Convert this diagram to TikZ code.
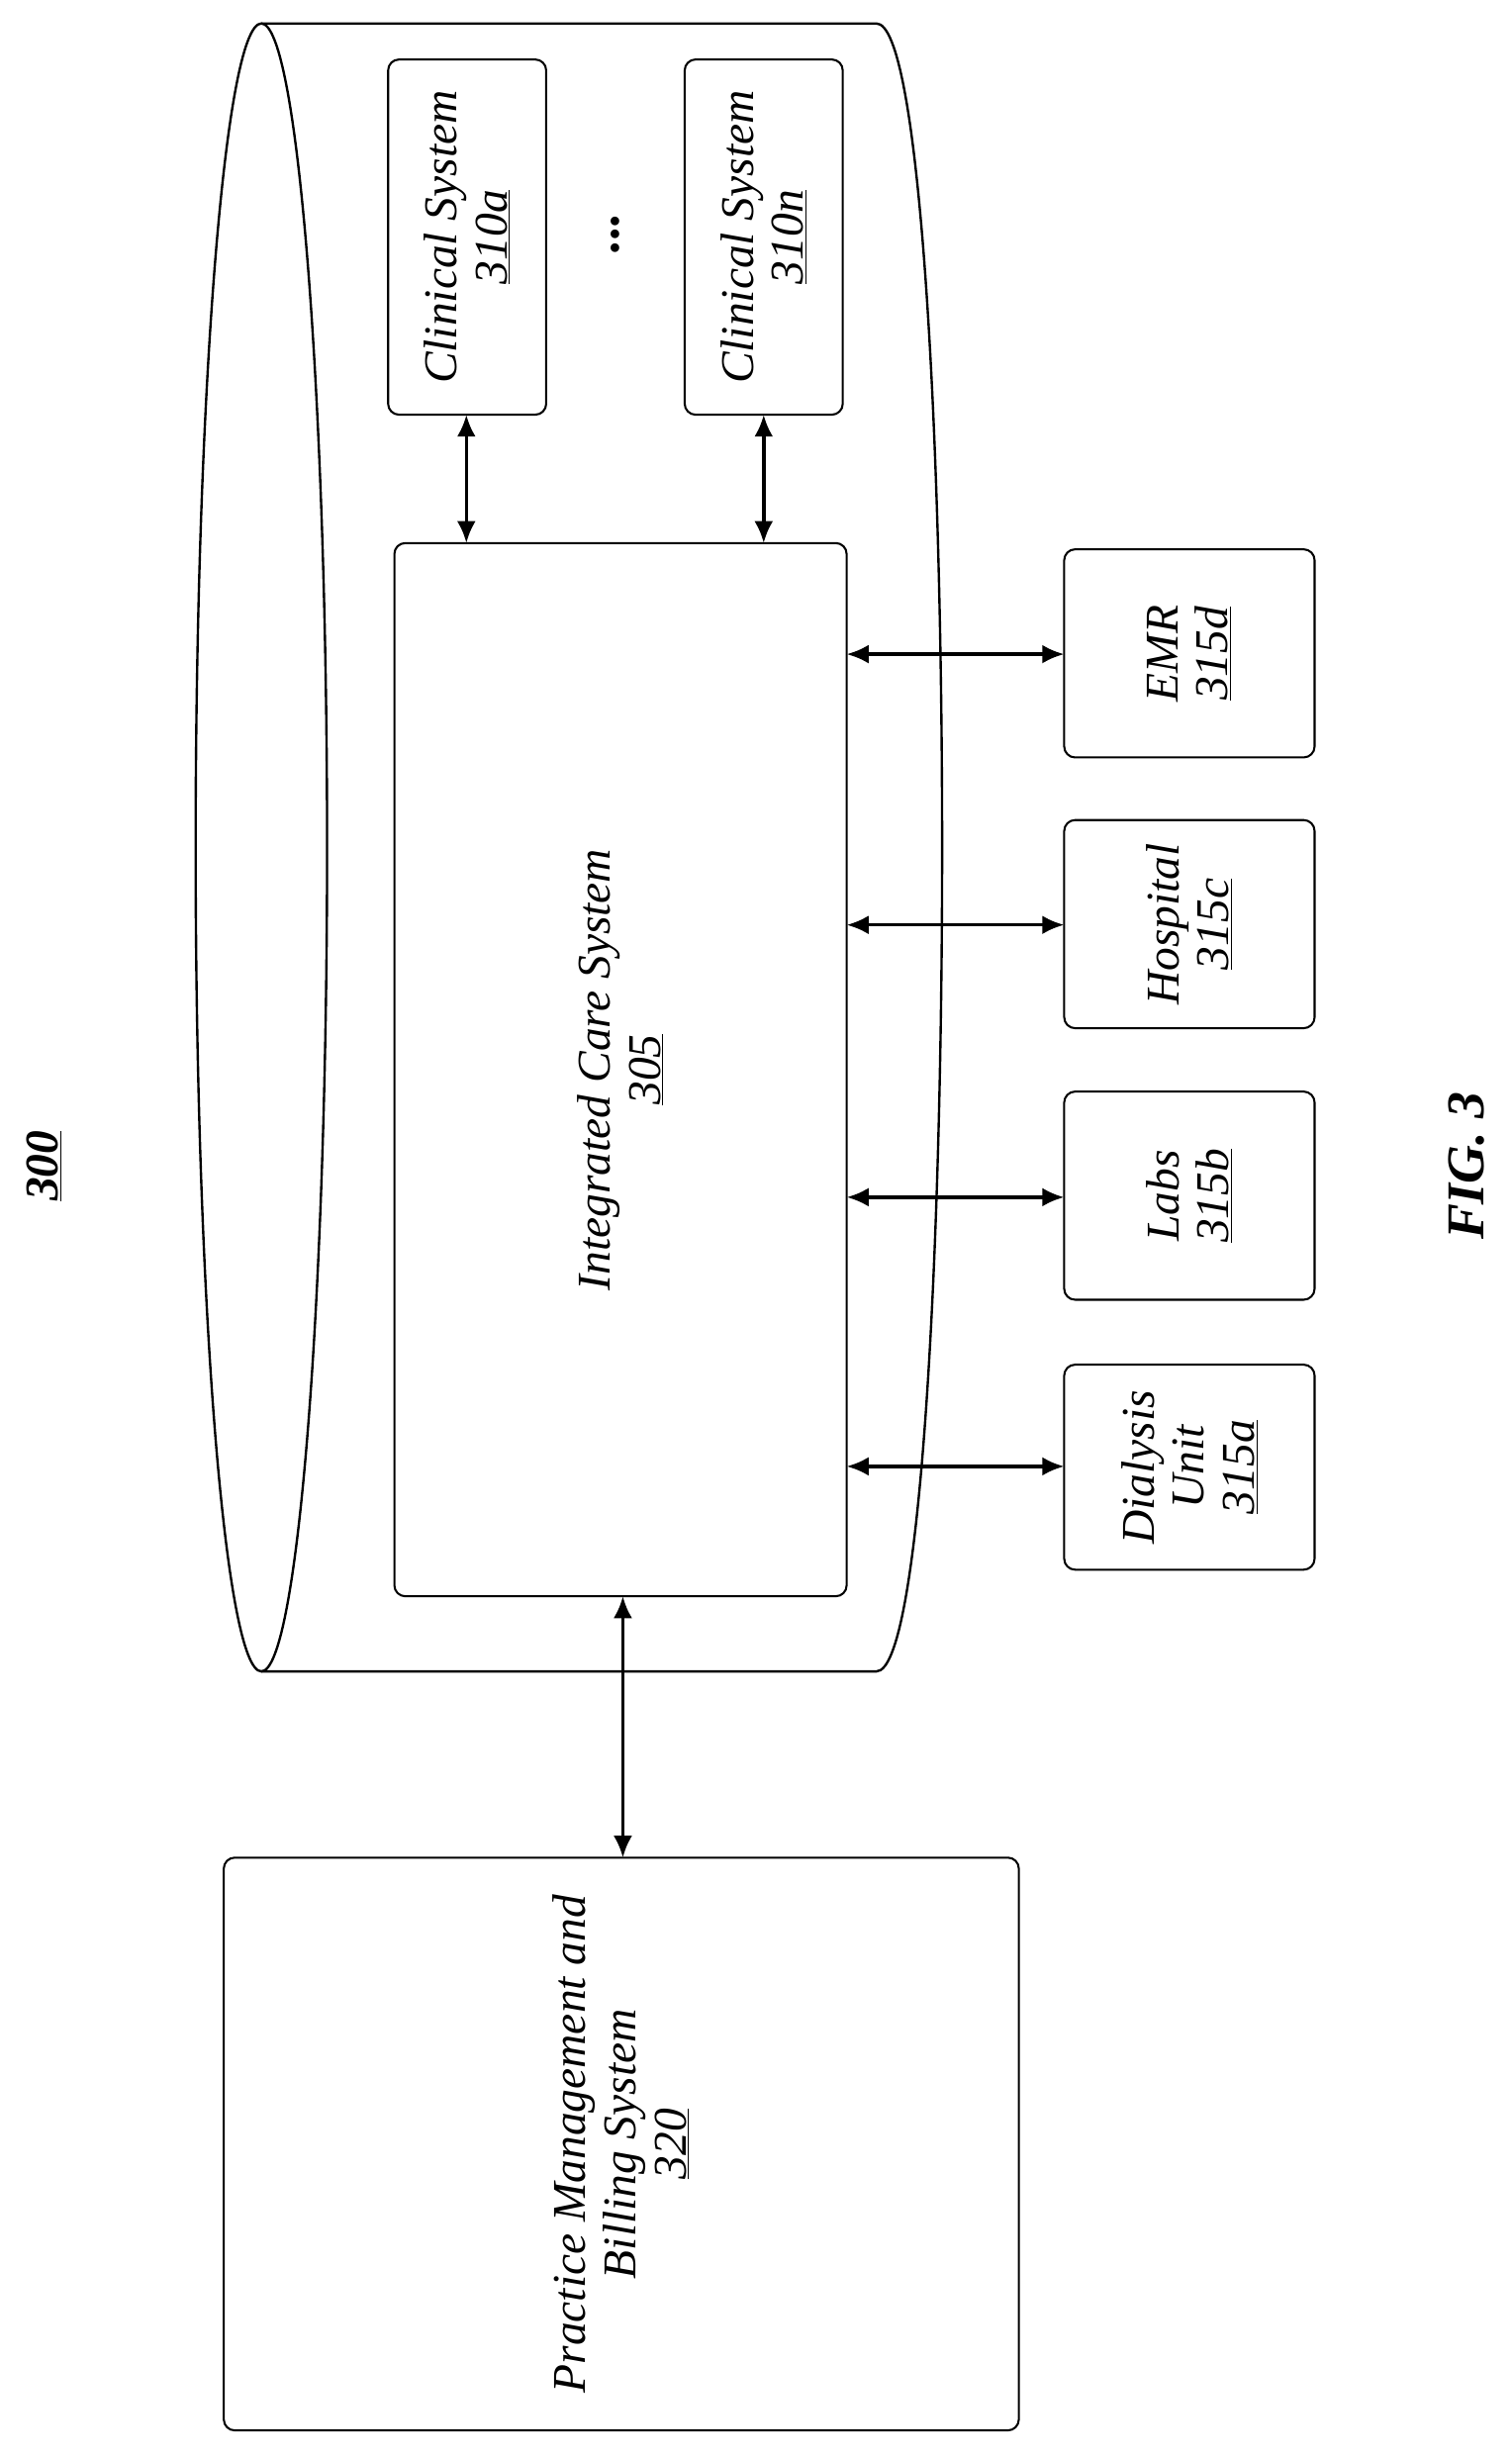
\documentclass[tikz,border=0pt]{standalone}
\usepackage{fontspec}
\setmainfont{Liberation Serif}
\usetikzlibrary{arrows.meta}
\begin{document}
\begin{tikzpicture}[x=1pt,y=-1pt,
 box/.style={draw,line width=1.3pt,rounded corners=7pt,inner sep=0pt},
 lbl/.style={rotate=90,font=\fontsize{30}{32}\selectfont\itshape,align=center},
 arr/.style={line width=2.2pt,{Latex[length=14pt,width=12pt]}-{Latex[length=14pt,width=12pt]}}]
\useasboundingbox (0,0) rectangle (966,1570);
% cylinder
\draw[line width=1.5pt] (167,15) -- (560,15) .. controls (616,15) and (616,1068) .. (560,1068) -- (167,1068);
\draw[line width=1.5pt] (167,541.5) ellipse[x radius=42,y radius=526.5];
% boxes
\node[box,minimum width=289pt,minimum height=673pt] (ics) at (396.5,683.5) {};
\node[lbl] at (ics) {Integrated Care System\\\underline{305}};
\node[box,minimum width=101pt,minimum height=227pt] (ca) at (298.5,151.5) {};
\node[lbl] at (ca) {Clinical System\\\underline{310a}};
\node[box,minimum width=101pt,minimum height=227pt] (cn) at (488,151.5) {};
\node[lbl] at (cn) {Clinical System\\\underline{310n}};
\node[font=\fontsize{34}{34}\selectfont\bfseries,rotate=90] (dots) at (393,150) {...};
\node[box,minimum width=160pt,minimum height=133pt] (emr) at (760,417.5) {};
\node[lbl] at (emr) {EMR\\\underline{315d}};
\node[box,minimum width=160pt,minimum height=133pt] (hos) at (760,590.5) {};
\node[lbl] at (hos) {Hospital\\\underline{315c}};
\node[box,minimum width=160pt,minimum height=133pt] (lab) at (760,764) {};
\node[lbl] at (lab) {Labs\\\underline{315b}};
\node[box,minimum width=160pt,minimum height=131pt] (dia) at (760,937.5) {};
\node[lbl] at (dia) {Dialysis\\Unit\\\underline{315a}};
\node[box,minimum width=508pt,minimum height=366pt] (pm) at (397,1370) {};
\node[lbl] at (397,1370) {Practice Management and\\Billing System\\\underline{320}};
% arrows
\draw[arr] (298,265) -- (298,347);
\draw[arr] (488,265) -- (488,347);
\draw[arr] (541,418) -- (680,418);
\draw[arr] (541,591) -- (680,591);
\draw[arr] (541,765) -- (680,765);
\draw[arr] (541,937) -- (680,937);
\draw[arr] (398,1020) -- (398,1187);
\node[rotate=90,font=\fontsize{30}{30}\selectfont\bfseries\itshape] (t300) at (28,745) {\underline{300}};
\node[rotate=90,font=\fontsize{34}{34}\selectfont\bfseries\itshape] (fig) at (937,745) {FIG. 3};
\end{tikzpicture}
\end{document}
